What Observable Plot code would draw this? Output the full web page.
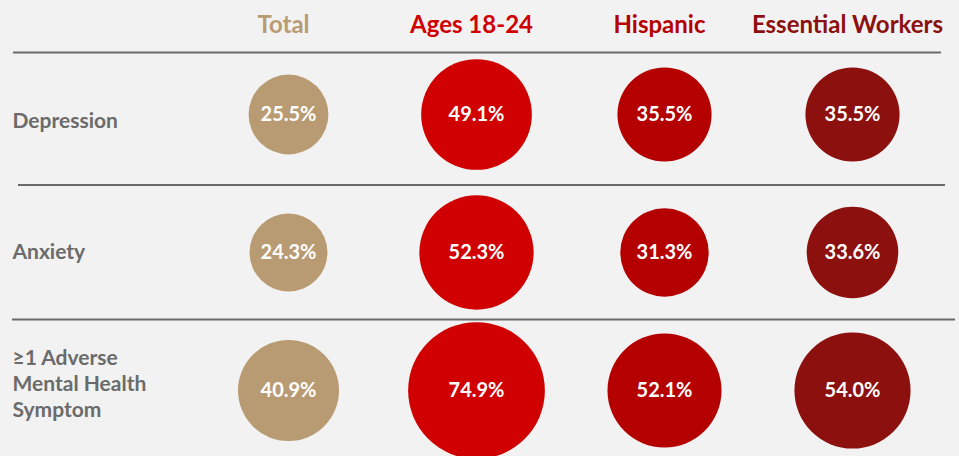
<!DOCTYPE html>
<html>
<head>
<meta charset="utf-8">
<script src="https://cdn.jsdelivr.net/npm/d3@7"></script>
<script src="https://cdn.jsdelivr.net/npm/@observablehq/plot@0.6"></script>
<style>
  html, body { margin: 0; padding: 0; background: #f2f2f2; }
  #chart svg { display: block; }
</style>
</head>
<body>
<div id="chart"></div>
<script>
const rowLabels = ["Depression", "Anxiety", "≥1 Adverse\nMental Health\nSymptom"];
const columns = ["Total", "Ages 18-24", "Hispanic", "Essential Workers"];
const totalValues = [25.5, 24.3, 40.9];
const ages18to24Values = [49.1, 52.3, 74.9];
const hispanicValues = [35.5, 31.3, 52.1];
const essentialWorkersValues = [35.5, 33.6, 54.0];

const colors = ["#b99b73", "#d00000", "#b50000", "#8b100e"];
const seriesValues = [totalValues, ages18to24Values, hispanicValues, essentialWorkersValues];

const table = [];
columns.forEach((col, j) => {
  rowLabels.forEach((row, i) => {
    table.push({column: col, row: row, value: seriesValues[j][i]});
  });
});

const labelDy = [5, -2, -8];
const grey = "#6b6b6b";

const chart = Plot.plot({
  width: 959,
  height: 456,
  margin: 0,
  style: {fontFamily: "Lato, 'Open Sans', sans-serif", background: "#f2f2f2"},
  x: {type: "point", domain: columns, range: [287, 852], padding: 0, axis: null},
  y: {type: "point", domain: rowLabels, range: [113, 390], padding: 0, axis: null},
  r: {type: "sqrt", domain: [0, 100], range: [0, 79]},
  color: {type: "ordinal", domain: columns, range: colors},
  marks: [
    Plot.ruleY([rowLabels[0]], {y: d => d, dy: -62, stroke: grey, strokeWidth: 2, insetLeft: 13, insetRight: 18}),
    Plot.ruleY([rowLabels[1]], {y: d => d, dy: -67.5, stroke: grey, strokeWidth: 2, insetLeft: 18, insetRight: 14}),
    Plot.ruleY([rowLabels[2]], {y: d => d, dy: -71, stroke: grey, strokeWidth: 2, insetLeft: 12, insetRight: 4}),
    Plot.text(columns, {x: d => d, frameAnchor: "top", lineAnchor: "middle", dy: 25, dx: -5, text: d => d,
      fill: d => d, fontSize: 24, fontWeight: "bold"}),
    ...rowLabels.map((lab, i) => Plot.text([lab], {y: d => d, frameAnchor: "left", dx: 12, dy: labelDy[i],
      text: d => d, textAnchor: "start", fill: grey, fontSize: 21, fontWeight: "bold", lineHeight: 1.24})),
    Plot.dot(table, {x: "column", y: "row", r: "value", fill: "column", stroke: "none"}),
    Plot.text(table, {x: "column", y: "row", text: d => d.value.toFixed(1) + "%", fill: "white",
      fontSize: 20, fontWeight: "bold"})
  ]
});
document.getElementById("chart").appendChild(chart);
</script>
</body>
</html>
